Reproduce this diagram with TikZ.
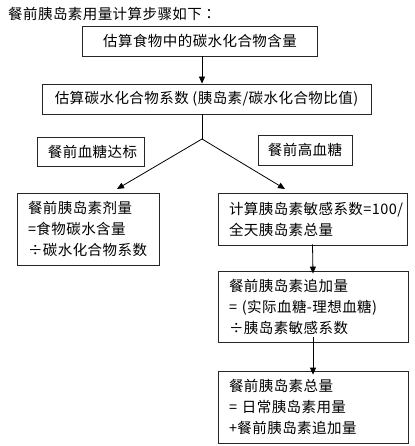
\documentclass[tikz,border=0pt]{standalone}
\usepackage{fontspec}
\setmainfont{Noto Sans CJK SC}[LetterSpace=3]
\newfontfamily\tcfont{Noto Sans CJK TC}
\usetikzlibrary{arrows.meta}
\begin{document}
\begin{tikzpicture}[x=1pt,y=-1pt,
  txt/.style={font=\fontsize{14.5}{21}\selectfont},
  box/.style={draw=black!85,line width=0.8pt,txt,inner sep=0pt,align=center},
  mbox/.style={draw=black!85,line width=0.8pt,txt,inner xsep=11pt,inner ysep=0pt,align=left},
  arr/.style={-{Triangle[length=7pt,width=6pt]},line width=0.8pt},
  ln/.style={line width=0.8pt}]
\useasboundingbox (0,0) rectangle (414,446);
\node[txt,anchor=west,inner sep=0pt] (title) at (8,14) {餐前胰岛素用量计算步骤如下{\tcfont ：}};
\node[box,minimum width=235pt,minimum height=30pt] (b1) at (200,41) {估算食物中的碳水化合物含量};
\node[box,minimum width=329pt,minimum height=30pt] (b2) at (206.5,99) {估算碳水化合物系数 (胰岛素/碳水化合物比值)};
\node[box,minimum width=107pt,minimum height=29pt] (l1) at (90.5,151.5) {\hspace*{4pt}餐前血糖达标};
\node[box,minimum width=94pt,minimum height=30pt] (l2) at (305,150) {餐前高血糖};
\node[mbox,minimum width=142pt,minimum height=72pt,text width=120pt] (lb) at (88,229) {餐前胰岛素剂量\\=食物碳水含量\\÷碳水化合物系数};
\node[mbox,minimum width=189pt,minimum height=52pt,text width=167pt] (r1) at (312.5,219) {计算胰岛素敏感系数=100/\\全天胰岛素总量};
\node[mbox,minimum width=190pt,minimum height=71pt,text width=168pt] (r2) at (313,306.5) {餐前胰岛素追加量\\= (实际血糖-理想血糖)\\÷胰岛素敏感系数};
\node[mbox,minimum width=190pt,minimum height=72pt,text width=168pt] (r3) at (313,407) {餐前胰岛素总量\\= 日常胰岛素用量\\+餐前胰岛素追加量};
\coordinate (j) at (202,139);
\coordinate (tl) at (117,189);
\coordinate (tr) at (285,189);
\draw[arr] (b1.south -| j) -- (b2.north -| j);
\draw[ln] (b2.south -| j) -- (j);
\draw[arr] (j) -- (tl);
\draw[arr] (j) -- (tr);
\draw[arr] ([yshift=1pt]r1.south) -- ([yshift=-3pt]r2.north);
\draw[arr] ([yshift=5pt]r2.south) -- ([yshift=-4pt]r3.north);
\end{tikzpicture}
\end{document}
